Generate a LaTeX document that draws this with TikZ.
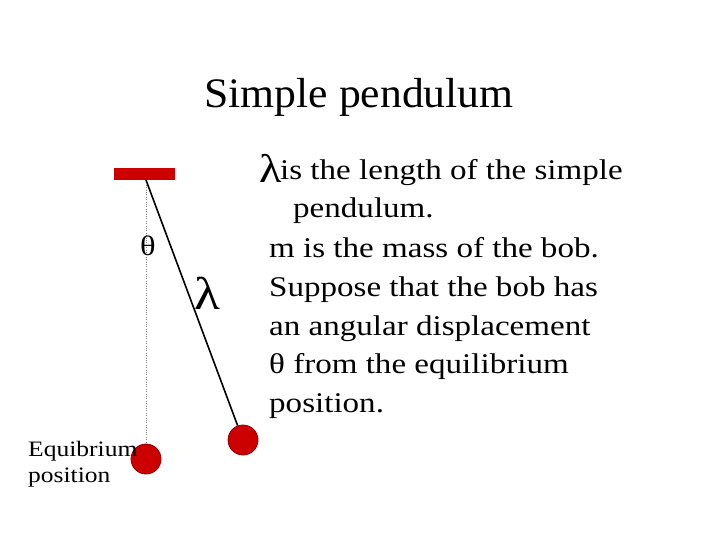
\documentclass[tikz,border=0pt]{standalone}
\usepackage{fontspec}
\setmainfont{Liberation Serif}[FakeStretch=1.16]
\newfontfamily\titlefont{Liberation Serif}[FakeStretch=1.04]
\definecolor{bobred}{RGB}{204,0,0}
\begin{document}
\begin{tikzpicture}[x=1pt,y=-1pt,
  bob/.style={circle,fill=bobred,draw=bobred!70!black,line width=0.8pt,minimum size=30pt,inner sep=0pt},
  body/.style={font=\fontsize{28.5}{38}\selectfont,anchor=base west,inner sep=0pt}]
\useasboundingbox (0,0) rectangle (720,540);
\node[font=\titlefont\fontsize{42}{48}\selectfont,anchor=base] (title) at (359,108) {Simple pendulum};
\node[fill=bobred,minimum width=61pt,minimum height=12pt,inner sep=0pt] (bar) at (144.5,174) {};
\coordinate (pivot) at (146,180);
\node[bob] (eq) at (146,459) {};
\node[bob] (b) at (243,440) {};
\draw[dotted,gray] (pivot) -- (eq);
\draw[line width=1.6pt] (pivot) -- (b);
\node[font=\fontsize{28}{28}\selectfont] (th) at (148,246) {θ};
\node[font=\fontsize{46}{46}\selectfont] (lam) at (207,293) {λ};
\node[font=\fontsize{22}{26}\selectfont,align=left,anchor=north west,inner sep=0pt] (eqlab) at (28,441) {Equibrium\\position};
\node[font=\fontsize{40}{40}\selectfont,anchor=base west,inner sep=0pt] (lam2) at (259,183) {λ};
\node[body] (t1) at (280,180) {is the length of the simple};
\node[body] (t2) at (293,218) {pendulum.};
\node[body] (t3) at (269,257) {m is the mass of the bob.};
\node[body] (t4) at (269,296) {Suppose that the bob has};
\node[body] (t5) at (269,335) {an angular displacement};
\node[body] (t6) at (269,373) {θ from the equilibrium};
\node[body] (t7) at (269,412) {position.};
\end{tikzpicture}
\end{document}
